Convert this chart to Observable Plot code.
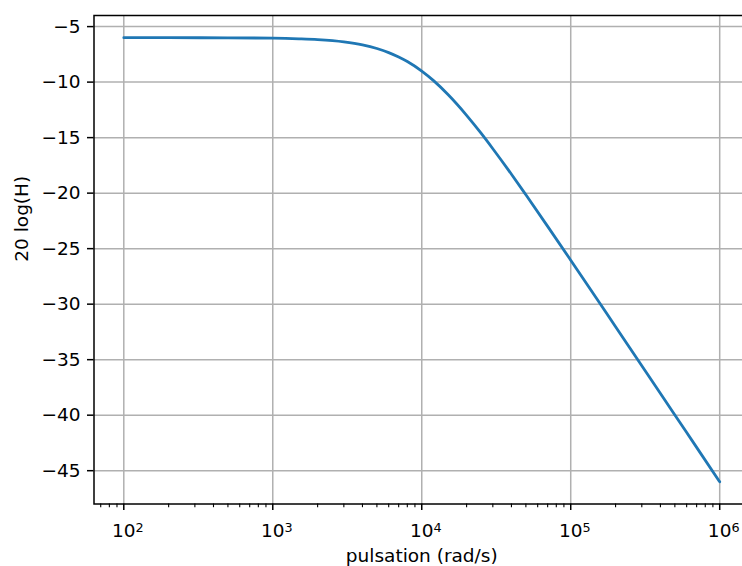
<!DOCTYPE html>
<html><head><meta charset="utf-8">
<script src="https://cdn.jsdelivr.net/npm/d3@7"></script>
<script src="https://cdn.jsdelivr.net/npm/@observablehq/plot@0.6"></script>
<style>
html,body{margin:0;padding:0;background:#fff;overflow:hidden;width:742px;height:566px;}
#chart{width:742px;height:566px;overflow:hidden;}
#chart svg{max-width:none !important;}
</style></head>
<body><div id="chart"></div>
<script>
// Data: pulsation (rad/s) and gain 20 log(H) in dB
const omega = [100, 200, 500, 1000, 1500, 2000, 3000, 4000, 5000, 6000, 7000, 8000, 10000, 12000, 15000, 20000, 25000, 30000, 40000, 50000, 70000, 100000, 150000, 200000, 300000, 500000, 700000, 1000000];
const gainDb = [-6.00, -6.00, -6.01, -6.04, -6.10, -6.17, -6.37, -6.64, -6.97, -7.34, -7.74, -8.15, -9.01, -9.87, -11.12, -12.99, -14.60, -16.00, -18.30, -20.15, -22.99, -26.04, -29.53, -32.03, -35.54, -39.98, -42.90, -46.00];
const xMajorTicks = [100, 1000, 10000, 100000, 1000000];
const xMajorExponents = ["2", "3", "4", "5", "6"];
const yTicks = [-45, -40, -35, -30, -25, -20, -15, -10, -5];
const xLabel = "pulsation (rad/s)";
const yLabel = "20 log(H)";

const data = omega.map((w, i) => ({w, g: gainDb[i]}));
const minorTicks = [];
for (let e = 1; e <= 6; e++) for (let k = 2; k <= 9; k++) {
  const v = k * Math.pow(10, e);
  if (v >= Math.pow(10, 1.8) && v <= Math.pow(10, 6.2)) minorTicks.push(v);
}
const font = "DejaVu Sans, sans-serif";
const fs = 18.5;
const plot = Plot.plot({
  width: 760, height: 566,
  marginLeft: 93.5, marginRight: 11, marginTop: 15, marginBottom: 62.5,
  style: {fontFamily: font, fontSize: fs + "px", background: "#fff", color: "#000", maxWidth: "none"},
  x: {type: "log", domain: [Math.pow(10, 1.8), Math.pow(10, 6.2)]},
  y: {domain: [-48, -4]},
  marks: [
    Plot.gridX(xMajorTicks, {stroke: "#b0b0b0", strokeOpacity: 1, strokeWidth: 1.5}),
    Plot.gridY(yTicks, {stroke: "#b0b0b0", strokeOpacity: 1, strokeWidth: 1.5}),
    Plot.line(data, {x: "w", y: "g", stroke: "#1f77b4", strokeWidth: 2.8, curve: "monotone-x"}),
    Plot.frame({stroke: "#000", strokeWidth: 1.5}),
    Plot.axisY(yTicks, {tickSize: 6.5, tickPadding: 7, fontSize: fs, label: null, strokeWidth: 1.5}),
    Plot.axisX(xMajorTicks, {tickSize: 6.5, tickPadding: 13.5, fontSize: fs, label: null, strokeWidth: 1.5,
      tickFormat: (d) => "10^" + xMajorExponents[xMajorTicks.indexOf(d)]}),
    Plot.axisX(minorTicks, {tickSize: 3.7, tickFormat: () => "", label: null, strokeWidth: 1.1}),
    Plot.text([xLabel], {frameAnchor: "bottom", dy: 57.5, text: d => d, fontSize: fs, lineAnchor: "bottom"}),
    Plot.text([yLabel], {frameAnchor: "left", dx: -66.5, dy: 2, rotate: -90, text: d => d, fontSize: fs, lineAnchor: "bottom"})
  ]
});
// render exponents as superscripts
d3.select(plot).selectAll("text").each(function() {
  const t = this.textContent;
  const m = /^10\^(\d)$/.exec(t);
  if (m) {
    const sel = d3.select(this);
    sel.text(null);
    sel.append("tspan").text("10");
    sel.append("tspan").attr("dy", "-5.5px").attr("font-size", "12.8px").text(m[1]);
    sel.attr("dx", "4px");
  }
});
document.getElementById("chart").appendChild(plot);
</script>
</body></html>
